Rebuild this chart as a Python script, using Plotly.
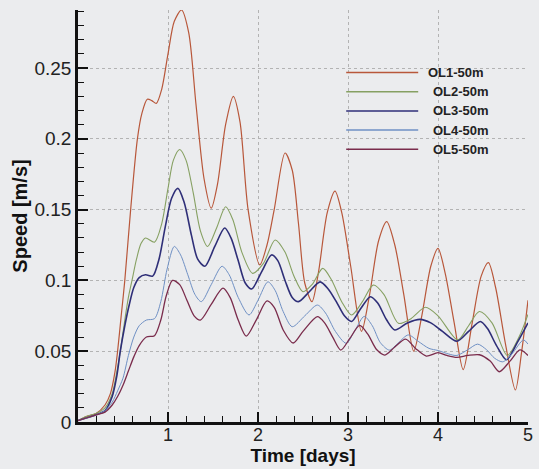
import plotly.graph_objects as go

# series names and colours
nomes = ["OL1-50m", "OL2-50m", "OL3-50m", "OL4-50m", "OL5-50m"]
cores = ["#b8573a", "#86a062", "#2f2f78", "#6f90c4", "#7a2c4c"]

# OL1 (time in days, speed in m/s)
t1 = [0, 0.1, 0.2, 0.3, 0.36, 0.41, 0.44, 0.48, 0.52, 0.585, 0.66, 0.71, 0.77, 0.82, 0.87,
      0.93, 1.0, 1.07, 1.15, 1.23, 1.31, 1.4, 1.48, 1.55, 1.64, 1.726, 1.8, 1.89, 2.02,
      2.1, 2.18, 2.3, 2.38, 2.45, 2.52, 2.6, 2.67, 2.77, 2.856, 2.93, 3.03, 3.15, 3.24,
      3.34, 3.43, 3.52, 3.62, 3.73, 3.82, 3.92, 4.0, 4.08, 4.18, 4.28, 4.38, 4.48, 4.56,
      4.64, 4.75, 4.86, 4.93, 5.0]
v1 = [0.001, 0.004, 0.006, 0.012, 0.02, 0.035, 0.05, 0.075, 0.1, 0.15, 0.2, 0.218, 0.228,
      0.227, 0.225, 0.235, 0.26, 0.283, 0.291, 0.275, 0.225, 0.172, 0.151, 0.168, 0.21,
      0.23, 0.212, 0.15, 0.111, 0.125, 0.15, 0.19, 0.178, 0.14, 0.098, 0.085, 0.105, 0.148,
      0.163, 0.148, 0.11, 0.064, 0.09, 0.128, 0.1415, 0.125, 0.09, 0.05, 0.075, 0.11,
      0.1226, 0.105, 0.07, 0.037, 0.07, 0.103, 0.1125, 0.095, 0.055, 0.0226, 0.05, 0.086]

# OL2
t2 = [0, 0.1, 0.2, 0.3, 0.38, 0.43, 0.47, 0.52, 0.56, 0.6, 0.65, 0.7, 0.75, 0.85, 0.93,
      1.0, 1.06, 1.13, 1.2, 1.28, 1.36, 1.44, 1.54, 1.64, 1.72, 1.82, 1.94, 2.06, 2.19,
      2.3, 2.4, 2.5, 2.6, 2.72, 2.82, 2.93, 3.04, 3.16, 3.28, 3.4, 3.56, 3.7, 3.86, 4.0,
      4.22, 4.34, 4.46, 4.6, 4.77, 4.9, 5.0]
v2 = [0.001, 0.004, 0.006, 0.01, 0.02, 0.035, 0.05, 0.072, 0.088, 0.1, 0.115, 0.126, 0.13,
      0.127, 0.14, 0.165, 0.185, 0.1925, 0.185, 0.162, 0.135, 0.124, 0.137, 0.152, 0.143,
      0.12, 0.105, 0.112, 0.1285, 0.12, 0.103, 0.092, 0.097, 0.1085, 0.1, 0.085, 0.0756,
      0.085, 0.0967, 0.09, 0.0697, 0.073, 0.081, 0.075, 0.058, 0.068, 0.078, 0.07, 0.047,
      0.06, 0.076]

# OL3
t3 = [0, 0.1, 0.2, 0.3, 0.38, 0.43, 0.47, 0.52, 0.57, 0.62, 0.68, 0.75, 0.83, 0.9, 0.97,
      1.04, 1.11, 1.18, 1.26, 1.33, 1.41, 1.52, 1.63, 1.7, 1.78, 1.86, 1.93, 2.04, 2.15,
      2.22, 2.3, 2.38, 2.45, 2.57, 2.69, 2.78, 2.87, 2.96, 3.04, 3.14, 3.25, 3.33, 3.43,
      3.52, 3.66, 3.8, 3.92, 4.05, 4.21, 4.34, 4.47, 4.55, 4.65, 4.76, 4.88, 5.0]
v3 = [0.001, 0.003, 0.005, 0.008, 0.018, 0.032, 0.05, 0.068, 0.083, 0.095, 0.102, 0.104,
      0.103, 0.115, 0.138, 0.158, 0.165, 0.155, 0.132, 0.115, 0.11, 0.124, 0.137, 0.13,
      0.114, 0.098, 0.094, 0.106, 0.118, 0.114, 0.1, 0.088, 0.085, 0.092, 0.099, 0.094,
      0.085, 0.075, 0.071, 0.08, 0.0885, 0.084, 0.072, 0.065, 0.07, 0.0725, 0.07, 0.064,
      0.057, 0.064, 0.071, 0.066, 0.054, 0.044, 0.056, 0.07]

# OL4
t4 = [0, 0.1, 0.2, 0.3, 0.38, 0.44, 0.5, 0.56, 0.62, 0.68, 0.76, 0.85, 0.92, 0.99, 1.07,
      1.14, 1.22, 1.3, 1.37, 1.48, 1.6, 1.68, 1.78, 1.9, 2.0, 2.11, 2.19, 2.28, 2.38,
      2.52, 2.66, 2.75, 2.86, 2.98, 3.08, 3.18, 3.27, 3.36, 3.46, 3.56, 3.67, 3.78, 3.9,
      4.0, 4.12, 4.21, 4.33, 4.44, 4.54, 4.63, 4.72, 4.82, 4.95, 5.0]
v4 = [0.001, 0.003, 0.005, 0.008, 0.014, 0.022, 0.031, 0.047, 0.06, 0.068, 0.072, 0.073,
      0.085, 0.108, 0.124, 0.118, 0.104, 0.09, 0.085, 0.097, 0.11, 0.104, 0.088, 0.0756,
      0.086, 0.099, 0.093, 0.078, 0.0673, 0.075, 0.0826, 0.077, 0.064, 0.0556, 0.065,
      0.0746, 0.068, 0.056, 0.0508, 0.056, 0.0615, 0.057, 0.052, 0.0505, 0.048, 0.047,
      0.051, 0.055, 0.051, 0.045, 0.0425, 0.048, 0.058, 0.055]

# OL5
t5 = [0, 0.1, 0.2, 0.3, 0.38, 0.44, 0.5, 0.56, 0.62, 0.68, 0.76, 0.85, 0.92, 0.98, 1.05,
      1.13, 1.21, 1.29, 1.36, 1.48, 1.61, 1.69, 1.78, 1.87, 1.98, 2.1, 2.18, 2.28, 2.39,
      2.5, 2.66, 2.74, 2.83, 2.92, 3.02, 3.13, 3.22, 3.32, 3.41, 3.52, 3.64, 3.75, 3.87,
      4.0, 4.1, 4.21, 4.33, 4.46, 4.58, 4.68, 4.8, 4.91, 5.0]
v5 = [0.001, 0.003, 0.005, 0.007, 0.012, 0.018, 0.026, 0.036, 0.046, 0.054, 0.06, 0.061,
      0.072, 0.089, 0.1, 0.097, 0.086, 0.075, 0.072, 0.083, 0.0945, 0.088, 0.072, 0.0607,
      0.072, 0.0855, 0.081, 0.065, 0.0558, 0.064, 0.0744, 0.07, 0.06, 0.0508, 0.059,
      0.0682, 0.062, 0.051, 0.0473, 0.053, 0.0585, 0.052, 0.0466, 0.049, 0.047, 0.0457,
      0.047, 0.0475, 0.043, 0.0355, 0.043, 0.051, 0.047]

tempos = [t1, t2, t3, t4, t5]
velocidades = [v1, v2, v3, v4, v5]
larguras = [1.2, 1.1, 1.6, 1.0, 1.3]

# ticks
x_ticks = [1, 2, 3, 4, 5]
y_ticks = [0, 0.05, 0.1, 0.15, 0.2, 0.25]
y_labels = ["0", "0.05", "0.1", "0.15", "0.2", "0.25"]

fundo = "#ebecee"
fonte = "Liberation Sans, Arial, sans-serif"

fig = go.Figure()
for nome, cor, t, v, w in zip(nomes, cores, tempos, velocidades, larguras):
    fig.add_trace(go.Scatter(x=t, y=v, mode="lines", name=nome,
                             line=dict(color=cor, width=w, shape="spline", smoothing=0.8)))

# legenda desenhada a mao (linhas compridas como no original)
shapes = []
annotations = []
for i, (nome, cor) in enumerate(zip(nomes, cores)):
    yy = 0.848 - i * 0.0465
    shapes.append(dict(type="line", xref="paper", yref="paper", x0=0.596, x1=0.756,
                       y0=yy, y1=yy, line=dict(color=cor, width=1.5)))
    annotations.append(dict(xref="paper", yref="paper", x=0.774 + (0.01 if i > 0 else 0),
                            y=yy, text="<b>" + nome + "</b>", showarrow=False,
                            xanchor="left", yanchor="middle",
                            font=dict(family=fonte, size=13, color="#222")))

fig.update_layout(
    width=539, height=469,
    margin=dict(l=78, r=11, t=10, b=47),
    paper_bgcolor=fundo, plot_bgcolor=fundo,
    showlegend=False,
    font=dict(family=fonte, color="#222"),
    shapes=shapes, annotations=annotations,
    xaxis=dict(range=[0, 5], tickvals=x_ticks, ticktext=[str(x) for x in x_ticks],
               automargin=False,
               ticks="inside", ticklen=10, tickwidth=1.5, tickcolor="#111",
               minor=dict(dtick=0.2, ticks="inside", ticklen=6, tickwidth=1.2,
                          tickcolor="#111", showgrid=False),
               showline=True, linecolor="#111", linewidth=2.5,
               showgrid=True, gridcolor="#b3b3b3", griddash="dot", gridwidth=1,
               zeroline=False, tickfont=dict(size=18, color="#222"),
               ticklabelstandoff=-5,
               title=dict(text="<b>Time [days]</b>", font=dict(size=19, color="#111"),
                          standoff=3)),
    yaxis=dict(range=[0, 0.291], tickvals=y_ticks, ticktext=y_labels,
               automargin=False,
               ticks="inside", ticklen=10, tickwidth=1.5, tickcolor="#111",
               minor=dict(dtick=0.01, ticks="inside", ticklen=6, tickwidth=1.2,
                          tickcolor="#111", showgrid=False),
               showline=True, linecolor="#111", linewidth=2.5,
               showgrid=True, gridcolor="#b3b3b3", griddash="dot", gridwidth=1,
               zeroline=False, tickfont=dict(size=19, color="#222"),
               title=dict(text="<b>Speed [m/s]</b>", font=dict(size=20, color="#111"),
                          standoff=2)),
)

# tira a margem do body para a figura ficar no canto, sem barra de ferramentas
fig.write_html("out.html", config={"displayModeBar": False},
               post_script="document.body.style.margin='0';"
                           "document.body.style.backgroundColor='#ebecee';")
